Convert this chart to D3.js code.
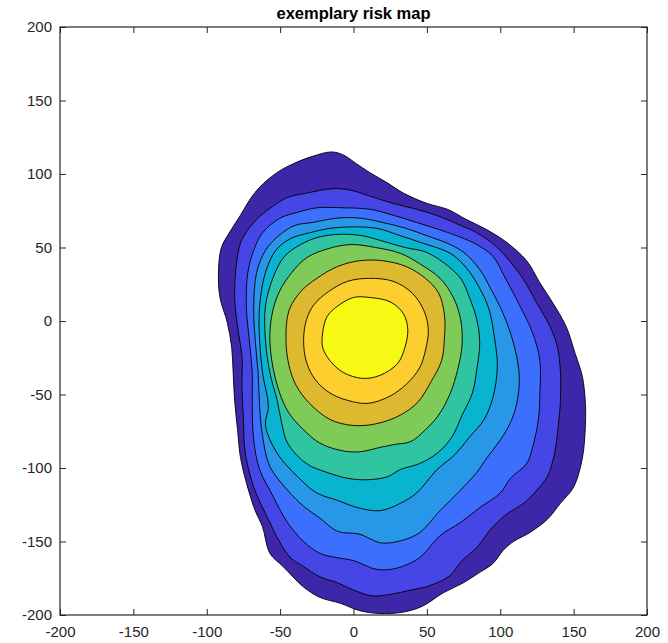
<!DOCTYPE html>
<html>
<head>
<meta charset="utf-8">
<script src="https://cdn.jsdelivr.net/npm/d3@7"></script>
<style>
  body { margin: 0; background: #fff; }
  svg { display: block; }
  text { font-family: "Liberation Sans", Arial, Helvetica, sans-serif; }
</style>
</head>
<body>
<svg id="chart" width="668" height="643"></svg>
<script>
// Filled contour map of a risk density; each level is a closed outline in map units.
const chartTitle = "exemplary risk map";
const xTicks = [-200, -150, -100, -50, 0, 50, 100, 150, 200];
const yTicks = [-200, -150, -100, -50, 0, 50, 100, 150, 200];

// Fill colour for each level, lowest (outermost) first.
const levelColors = ["#3e26a8", "#4646e6", "#3d6ffd", "#2897e8", "#08b4d0",
                     "#31c4a1", "#80ca58", "#dcb92f", "#fcce2e", "#f8f815"];

// Contour outlines, [x, y] pairs in map units, outermost first.
const level1 = [[-82,-35],[-83,-18],[-86,-1],[-91,16],[-92,33],[-90,50],[-84,61],[-77,72],[-71,82],[-64,91],
  [-52,101],[-41,107],[-28,112],[-15,115],[-7,113],[2,107],[11,101],[23,94],[34,87],[50,80],[64,76],[77,69],
  [91,62],[105,53],[118,41],[127,26],[136,12],[145,-4],[151,-22],[156,-38],[158,-56],[158,-71],[156,-93],
  [150,-113],[141,-124],[132,-135],[120,-144],[109,-150],[102,-156],[95,-165],[86,-171],[75,-178],[61,-185],
  [47,-194],[34,-198],[18,-199],[4,-197],[-9,-192],[-23,-188],[-34,-181],[-48,-167],[-57,-158],[-62,-140],
  [-67,-129],[-73,-110],[-77,-93],[-79,-74],[-81,-54]];
const level2 = [[-76,-47],[-76,-24],[-79,-4],[-81,16],[-80,37],[-77,53],[-72,62],[-64,71],[-55,78],[-45,84],
  [-32,87],[-14,90],[-2,89],[11,85],[27,80],[43,76],[59,71],[73,65],[84,60],[98,50],[107,40],[116,28],[125,12],
  [134,-4],[139,-18],[141,-35],[141,-54],[140,-67],[137,-90],[132,-106],[125,-115],[116,-124],[105,-131],
  [95,-140],[84,-154],[73,-164],[66,-173],[52,-180],[39,-183],[25,-186],[13,-187],[0,-183],[-11,-178],
  [-23,-174],[-34,-167],[-43,-161],[-51,-149],[-58,-135],[-68,-113],[-74,-88],[-75,-67]];
const level3 = [[-69,-58],[-69,-35],[-71,-13],[-73,10],[-72,33],[-68,48],[-62,60],[-50,70],[-38,74],[-25,77],
  [-7,77],[11,76],[27,72],[43,67],[59,62],[73,57],[84,52],[95,44],[103,30],[113,11],[122,-8],[127,-27],[127,-49],
  [126,-67],[122,-86],[118,-97],[107,-107],[100,-117],[86,-127],[73,-137],[59,-146],[45,-161],[30,-168],
  [16,-169],[0,-163],[-11,-161],[-23,-158],[-34,-150],[-45,-137],[-56,-117],[-64,-101],[-68,-81]];
const level4 = [[-64,-58],[-65,-35],[-67,-13],[-68,10],[-66,33],[-60,48],[-51,58],[-40,65],[-28,67],[-11,70],
  [4,70],[20,67],[36,63],[50,58],[66,52],[76,46],[86,35],[94,21],[102,5],[109,-15],[113,-38],[111,-57],
  [107,-69],[100,-81],[91,-93],[84,-103],[73,-115],[59,-129],[45,-144],[34,-149],[19,-151],[4,-145],
  [-11,-143],[-23,-134],[-34,-126],[-45,-115],[-57,-99],[-62,-78]];
const level5 = [[-58,-58],[-62,-35],[-64,-13],[-64,10],[-60,33],[-53,48],[-43,56],[-30,60],[-16,63],[0,64],
  [16,63],[32,58],[47,53],[66,46],[77,36],[85,24],[92,9],[96,-11],[98,-31],[95,-52],[89,-67],[79,-79],
  [69,-91],[57,-101],[43,-117],[32,-124],[18,-129],[3,-127],[-11,-122],[-25,-117],[-38,-106],[-52,-90],[-60,-71]];
const level6 = [[-52,-54],[-57,-35],[-60,-13],[-60,10],[-55,29],[-47,44],[-36,52],[-24,57],[-9,59],[6,58],
  [21,54],[35,50],[49,47],[61,40],[73,29],[79,16],[84,1],[86,-15],[84,-33],[81,-49],[74,-64],[67,-79],
  [57,-90],[45,-97],[32,-101],[23,-106],[9,-108],[-4,-107],[-18,-103],[-32,-97],[-45,-83],[-49,-69]];
const level7 = [[-57,-13],[-55,7],[-50,21],[-42,33],[-32,43],[-18,49],[-2,52],[15,50],[32,46],[45,39],
  [59,29],[68,16],[73,1],[74,-16],[71,-33],[66,-49],[58,-64],[49,-74],[39,-82],[28,-84],[18,-86],[4,-89],
  [-9,-88],[-23,-83],[-34,-74],[-45,-61],[-53,-40]];
const level8 = [[-46,-13],[-44,7],[-36,20],[-25,29],[-11,37],[4,41],[20,41],[36,37],[49,29],[58,19],[62,4],
  [62,-11],[60,-27],[53,-41],[44,-55],[32,-64],[15,-70],[-1,-71],[-16,-67],[-30,-56],[-39,-44],[-44,-30]];
const level9 = [[-34,-13],[-32,1],[-27,11],[-17,20],[-4,27],[11,29],[27,27],[40,19],[48,7],[51,-6],[49,-20],
  [45,-32],[36,-43],[25,-51],[10,-56],[-4,-54],[-16,-49],[-26,-40],[-32,-28]];
const level10 = [[-21,-8],[-18,3],[-11,10],[0,16],[11,16],[25,13],[34,5],[37,-6],[35,-18],[30,-29],[18,-37],
  [6,-39],[-7,-35],[-16,-27],[-21,-18]];

const levels = [level1, level2, level3, level4, level5, level6, level7, level8, level9, level10];

const svg = d3.select("#chart");
const plot = { left: 60, right: 647, top: 27, bottom: 615 };
const axisColor = "#262626";

const x = d3.scaleLinear().domain([-200, 200]).range([plot.left, plot.right]);
const y = d3.scaleLinear().domain([-200, 200]).range([plot.bottom, plot.top]);

svg.append("rect").attr("width", 668).attr("height", 643).attr("fill", "#fff");

svg.append("defs").append("clipPath").attr("id", "plot-clip")
  .append("rect")
  .attr("x", plot.left).attr("y", plot.top)
  .attr("width", plot.right - plot.left).attr("height", plot.bottom - plot.top);

const outline = d3.line()
  .x(d => x(d[0]))
  .y(d => y(d[1]))
  .curve(d3.curveCatmullRomClosed.alpha(0.5));

svg.append("g").attr("clip-path", "url(#plot-clip)")
  .selectAll("path")
  .data(levels)
  .join("path")
  .attr("d", outline)
  .attr("fill", (d, i) => levelColors[i])
  .attr("stroke", "#000")
  .attr("stroke-width", 0.9)
  .attr("stroke-linejoin", "round");

// Axes: ticks point inward on all four sides, labels on bottom and left only.
const tickLen = 6;
const fmt = d => String(d);

function styleAxis(g, showLabels) {
  g.select(".domain").remove();
  g.selectAll(".tick line").attr("stroke", axisColor).attr("stroke-width", 1);
  g.selectAll(".tick text")
    .attr("fill", axisColor)
    .attr("font-size", 15)
    .style("display", showLabels ? null : "none");
}

svg.append("g")
  .attr("transform", `translate(0,${plot.bottom})`)
  .call(d3.axisBottom(x).tickValues(xTicks).tickFormat(fmt).tickSizeInner(-tickLen).tickSizeOuter(0).tickPadding(11))
  .call(g => styleAxis(g, true));

svg.append("g")
  .attr("transform", `translate(0,${plot.top})`)
  .call(d3.axisTop(x).tickValues(xTicks).tickSizeInner(-tickLen).tickSizeOuter(0))
  .call(g => styleAxis(g, false));

svg.append("g")
  .attr("transform", `translate(${plot.left},0)`)
  .call(d3.axisLeft(y).tickValues(yTicks).tickFormat(fmt).tickSizeInner(-tickLen).tickSizeOuter(0).tickPadding(8))
  .call(g => styleAxis(g, true));

svg.append("g")
  .attr("transform", `translate(${plot.right},0)`)
  .call(d3.axisRight(y).tickValues(yTicks).tickSizeInner(-tickLen).tickSizeOuter(0))
  .call(g => styleAxis(g, false));

svg.append("rect")
  .attr("x", plot.left).attr("y", plot.top)
  .attr("width", plot.right - plot.left).attr("height", plot.bottom - plot.top)
  .attr("fill", "none")
  .attr("stroke", axisColor)
  .attr("stroke-width", 1.2);

svg.append("text")
  .attr("x", (plot.left + plot.right) / 2)
  .attr("y", 19)
  .attr("text-anchor", "middle")
  .attr("font-size", 16.5)
  .attr("font-weight", "bold")
  .attr("fill", "#000")
  .text(chartTitle);
</script>
</body>
</html>
